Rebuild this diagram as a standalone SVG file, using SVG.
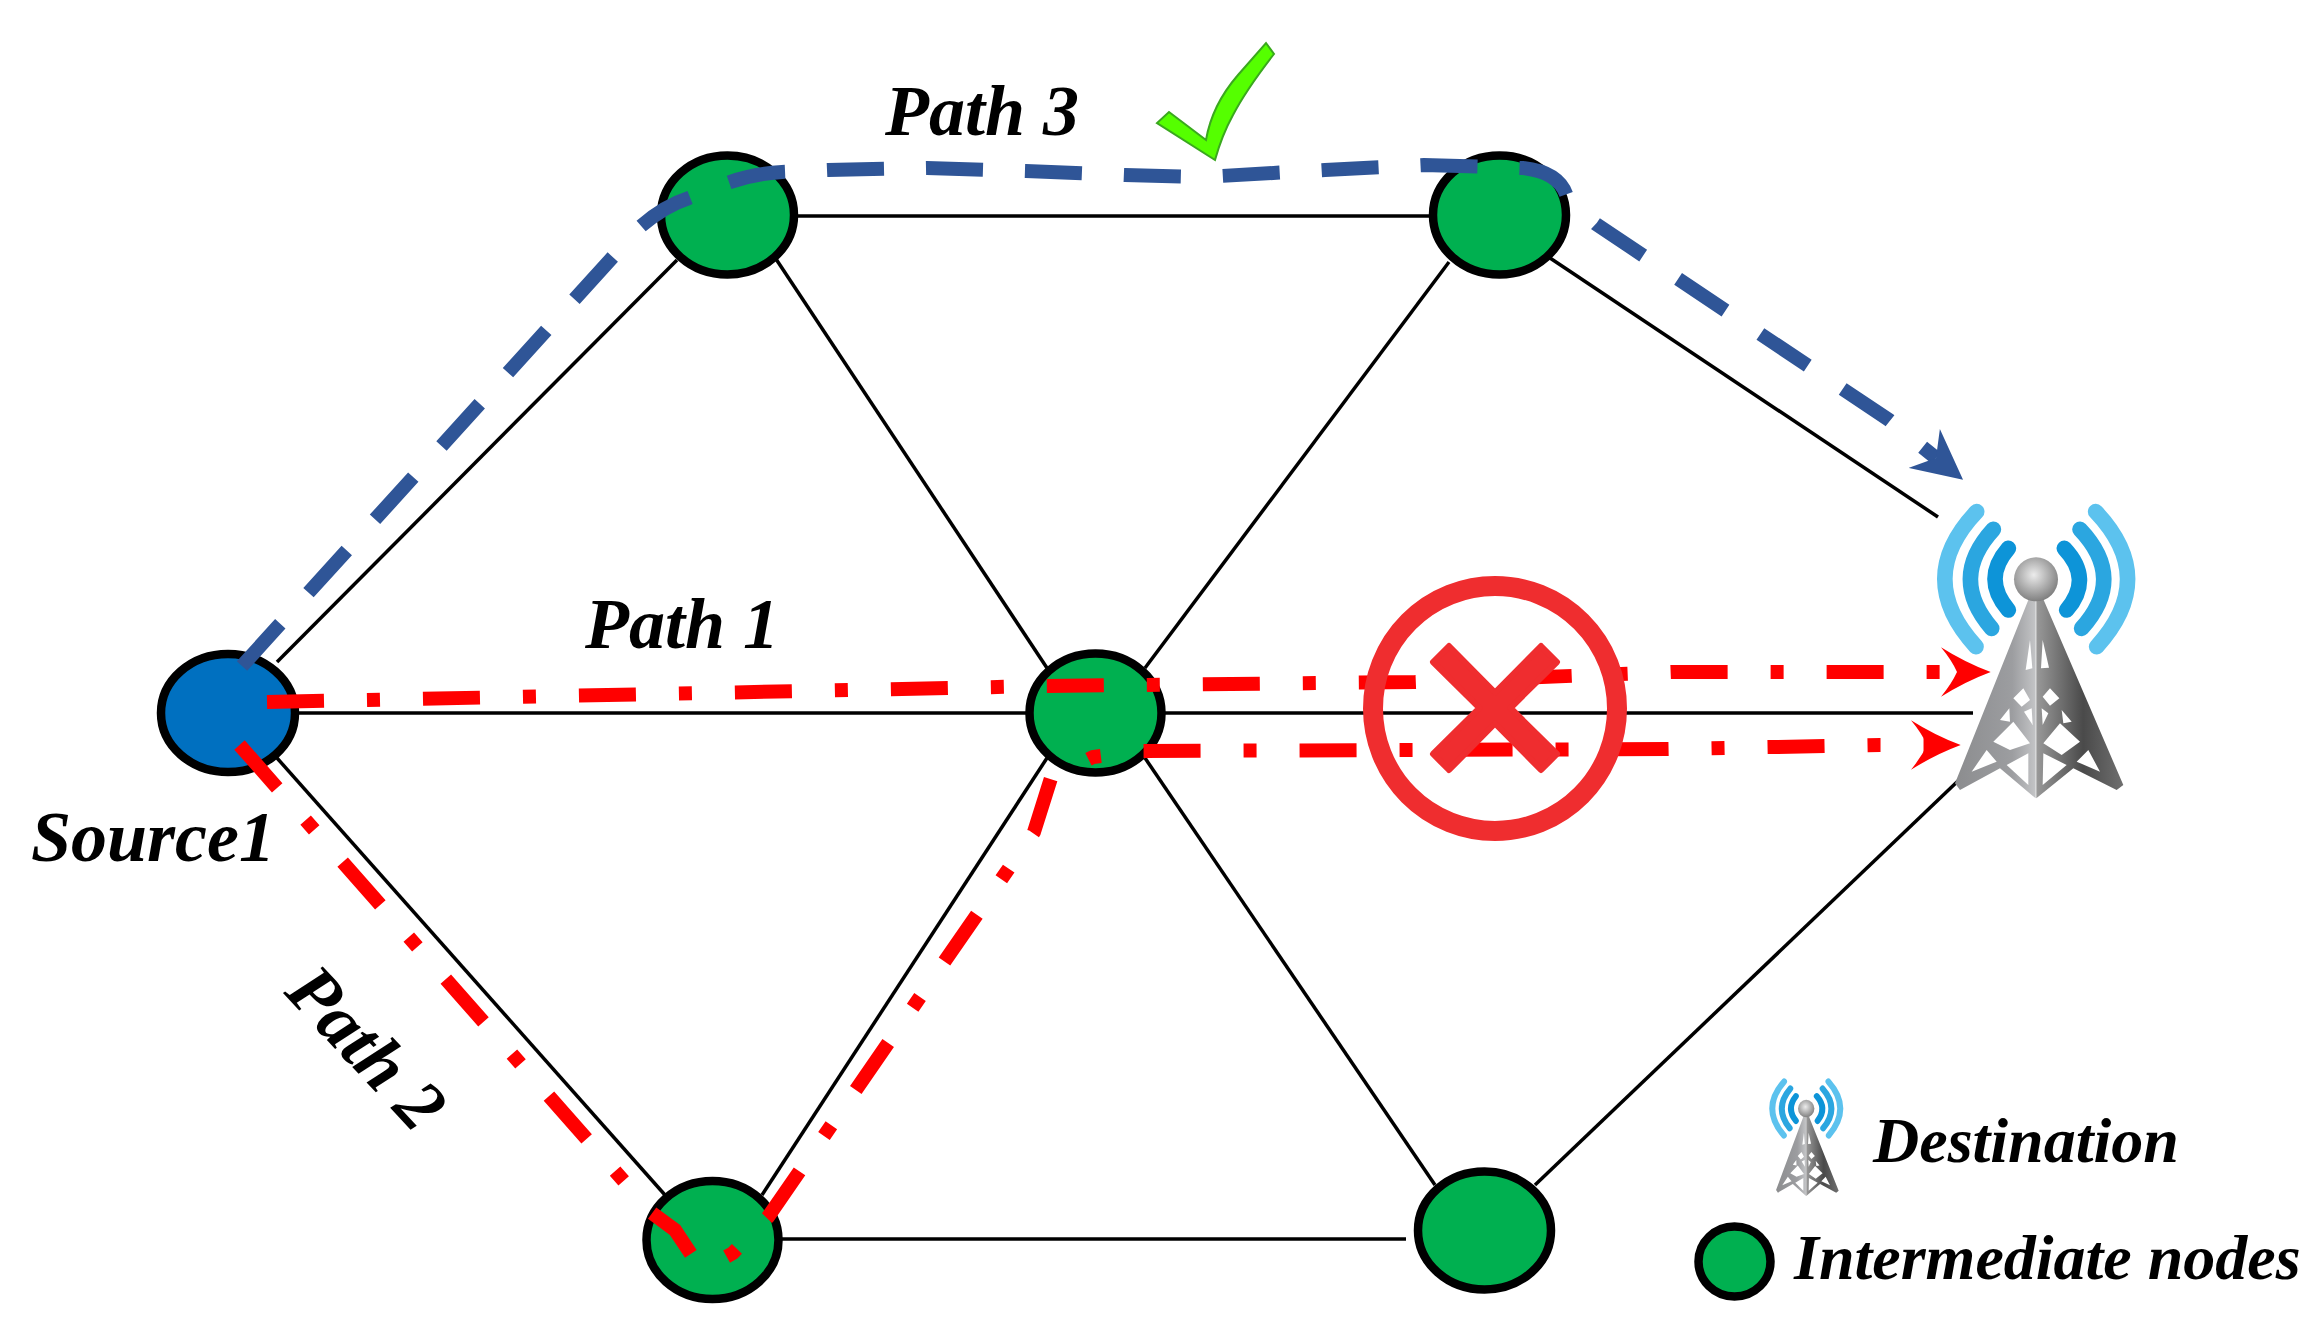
<svg xmlns="http://www.w3.org/2000/svg" xmlns:xlink="http://www.w3.org/1999/xlink" width="2313" height="1326" viewBox="0 0 2313 1326">
<style>
.link{stroke:#000;stroke-width:3.5;fill:none}
.node{stroke:#000;stroke-width:8.5}
.mid{fill:#00B050}
.src{fill:#0070C0}
.red{stroke:#F00;stroke-width:14;fill:none;stroke-dasharray:57 43 13 43}
.blue{stroke:#2F5597;stroke-width:14;fill:none;stroke-dasharray:57 42}
.lbl{font-family:"Liberation Serif","Times New Roman",serif;font-style:italic;font-weight:700;font-size:72px;fill:#000}
.leg{font-size:64px}
.wave{fill:none;stroke-linecap:round;stroke-width:47}
</style>
<defs>
<marker id="arrRed" markerUnits="userSpaceOnUse" markerWidth="50" markerHeight="50" viewBox="0 0 46 46" refX="15" refY="23" orient="auto">
<path d="M46,23 Q22,14 0,0 Q10,12 15,23 Q10,34 0,46 Q22,32 46,23Z" fill="#F00"/>
</marker>
<marker id="arrBlue" markerUnits="userSpaceOnUse" markerWidth="50" markerHeight="50" viewBox="0 0 46 46" refX="14" refY="23" orient="auto">
<path d="M46,23 L0,0 L14,23 L0,46Z" fill="#2F5597"/>
</marker>
<linearGradient id="tl" gradientUnits="userSpaceOnUse" x1="320" y1="0" x2="558" y2="0"><stop offset="0" stop-color="#8c8d8f"/><stop offset=".7" stop-color="#9c9da0"/><stop offset="1" stop-color="#c4c5c7"/></linearGradient>
<linearGradient id="tr" gradientUnits="userSpaceOnUse" x1="558" y1="0" x2="815" y2="0"><stop offset="0" stop-color="#9a9a9a"/><stop offset=".55" stop-color="#4a4a4a"/><stop offset="1" stop-color="#6e6e6e"/></linearGradient>
<radialGradient id="ball" cx=".45" cy=".4" r=".6"><stop offset="0" stop-color="#ececec"/><stop offset="1" stop-color="#808080"/></radialGradient>
<g id="tower">
<path class="wave" stroke="#5CC2EE" d="M380,215Q190,415 378,620M737,215Q927,415 740,620"/>
<path class="wave" stroke="#2BA6E0" d="M430,268Q295,415 425,565M690,268Q830,415 695,565"/>
<path class="wave" stroke="#0D94D8" d="M475,325Q395,417 475,510M643,325Q730,417 650,510"/>
<path fill="url(#tl)" fill-rule="evenodd" d="M535,480H557V1075L450,985L330,1050L315,1030ZM527,690L540,600L547,685ZM490,775L520,745L540,780L515,800ZM450,840L478,805L480,845ZM522,815L545,805L548,855ZM430,905L490,845L540,910L480,930ZM365,995L410,930L440,965ZM470,975L535,940L535,1035Z"/>
<path fill="url(#tr)" fill-rule="evenodd" d="M581,480H559V1075L670,985L800,1050L820,1035ZM573,685L578,600L597,683ZM578,770L600,745L628,775L600,797ZM575,805L595,820L578,855ZM635,810L665,845L640,850ZM580,910L630,850L690,905L635,945ZM680,965L715,930L750,995ZM578,1035L580,940L650,975Z"/>
<circle cx="558" cy="418" r="66" fill="url(#ball)"/>
</g>
</defs>
<rect width="2313" height="1326" fill="#fff"/>
<g id="links">
<path class="link" d="M277,662L677,260"/>
<path class="link" d="M776,259L1047,668"/>
<path class="link" d="M797,216H1430"/>
<path class="link" d="M1449,262L1145,668"/>
<path class="link" d="M1550,258L1938,517"/>
<path class="link" d="M298,713H1026"/>
<path class="link" d="M1165,713H1973"/>
<path class="link" d="M1047,758L762,1195"/>
<path class="link" d="M277,758L665,1195"/>
<path class="link" d="M1145,758L1435,1185"/>
<path class="link" d="M782,1239H1406"/>
<path class="link" d="M1535,1185L1959,780"/>
</g>
<g id="node-source"><ellipse class="node src" cx="228" cy="713" rx="67" ry="59"/></g>
<g id="node-top-left"><ellipse class="node mid" cx="727.5" cy="215" rx="66.5" ry="59.5"/></g>
<g id="node-top-right"><ellipse class="node mid" cx="1499.5" cy="215" rx="66.5" ry="59.5"/></g>
<g id="node-center"><ellipse class="node mid" cx="1095.5" cy="713" rx="66" ry="59.5"/></g>
<g id="node-bottom-left"><ellipse class="node mid" cx="712.5" cy="1240" rx="66" ry="59"/></g>
<g id="node-bottom-right"><ellipse class="node mid" cx="1484.5" cy="1230.5" rx="66.5" ry="59"/></g>
<g id="node-destination" transform="translate(1850,440) scale(.33333)"><use href="#tower" xlink:href="#tower"/></g>
<g id="connectors">
<path class="red" marker-end="url(#arrRed)" d="M267,702L1046,686L1415,682L1671,672L1884,672L1957,672"/>
<path class="red" marker-end="url(#arrRed)" d="M239.5,745L652,1213L675,1230L691,1254L708,1267L733,1253L768,1217L1034,832L1051,778L1093,757L1143,751L1668,749L1880,745L1927,745"/>
<path class="blue" marker-end="url(#arrBlue)" d="M242,666L640,227Q664,206 689,198L727,183Q752,174 782,172L828,170L927,168L1026,171L1125,175L1203,177L1325,170L1424,165L1523,168Q1560,172 1567,197L1596,224L1889,420L1936,458"/>
</g>
<g id="forbidden">
<ellipse cx="1495" cy="708.5" rx="122" ry="122.5" fill="none" stroke="#EF2D2F" stroke-width="20"/>
<polygon points="1449,646 1495,692.5 1541,646 1557,662 1510.5,708 1557,754 1541,770 1495,723.5 1449,770 1433,754 1479.5,708 1433,662" fill="#EF2D2F" stroke="#EF2D2F" stroke-width="6" stroke-linejoin="round"/>
</g>
<g id="check">
<path d="M1266,43L1274,54Q1246,90 1233,115Q1222,135 1215,160L1157,123L1169,112L1206,140Q1212,105 1238,75Z" fill="#55FF00" stroke="#3AA81E" stroke-width="2"/>
</g>
<g id="labels">
<text class="lbl" x="885" y="135">Path 3</text>
<text class="lbl" x="585" y="648">Path 1</text>
<text class="lbl" x="31" y="861">Source1</text>
<text class="lbl" transform="translate(283,993) rotate(47)">Path 2</text>
</g>
<g id="legend">
<g id="legend-destination">
<use href="#tower" xlink:href="#tower" transform="translate(1737,1053) scale(.124,.133)"/>
<text class="lbl leg" x="1873" y="1162">Destination</text>
</g>
<g id="legend-intermediate">
<ellipse class="node mid" cx="1734.5" cy="1261.5" rx="36" ry="35"/>
<text class="lbl leg" x="1794" y="1279">Intermediate nodes</text>
</g>
</g>
</svg>
